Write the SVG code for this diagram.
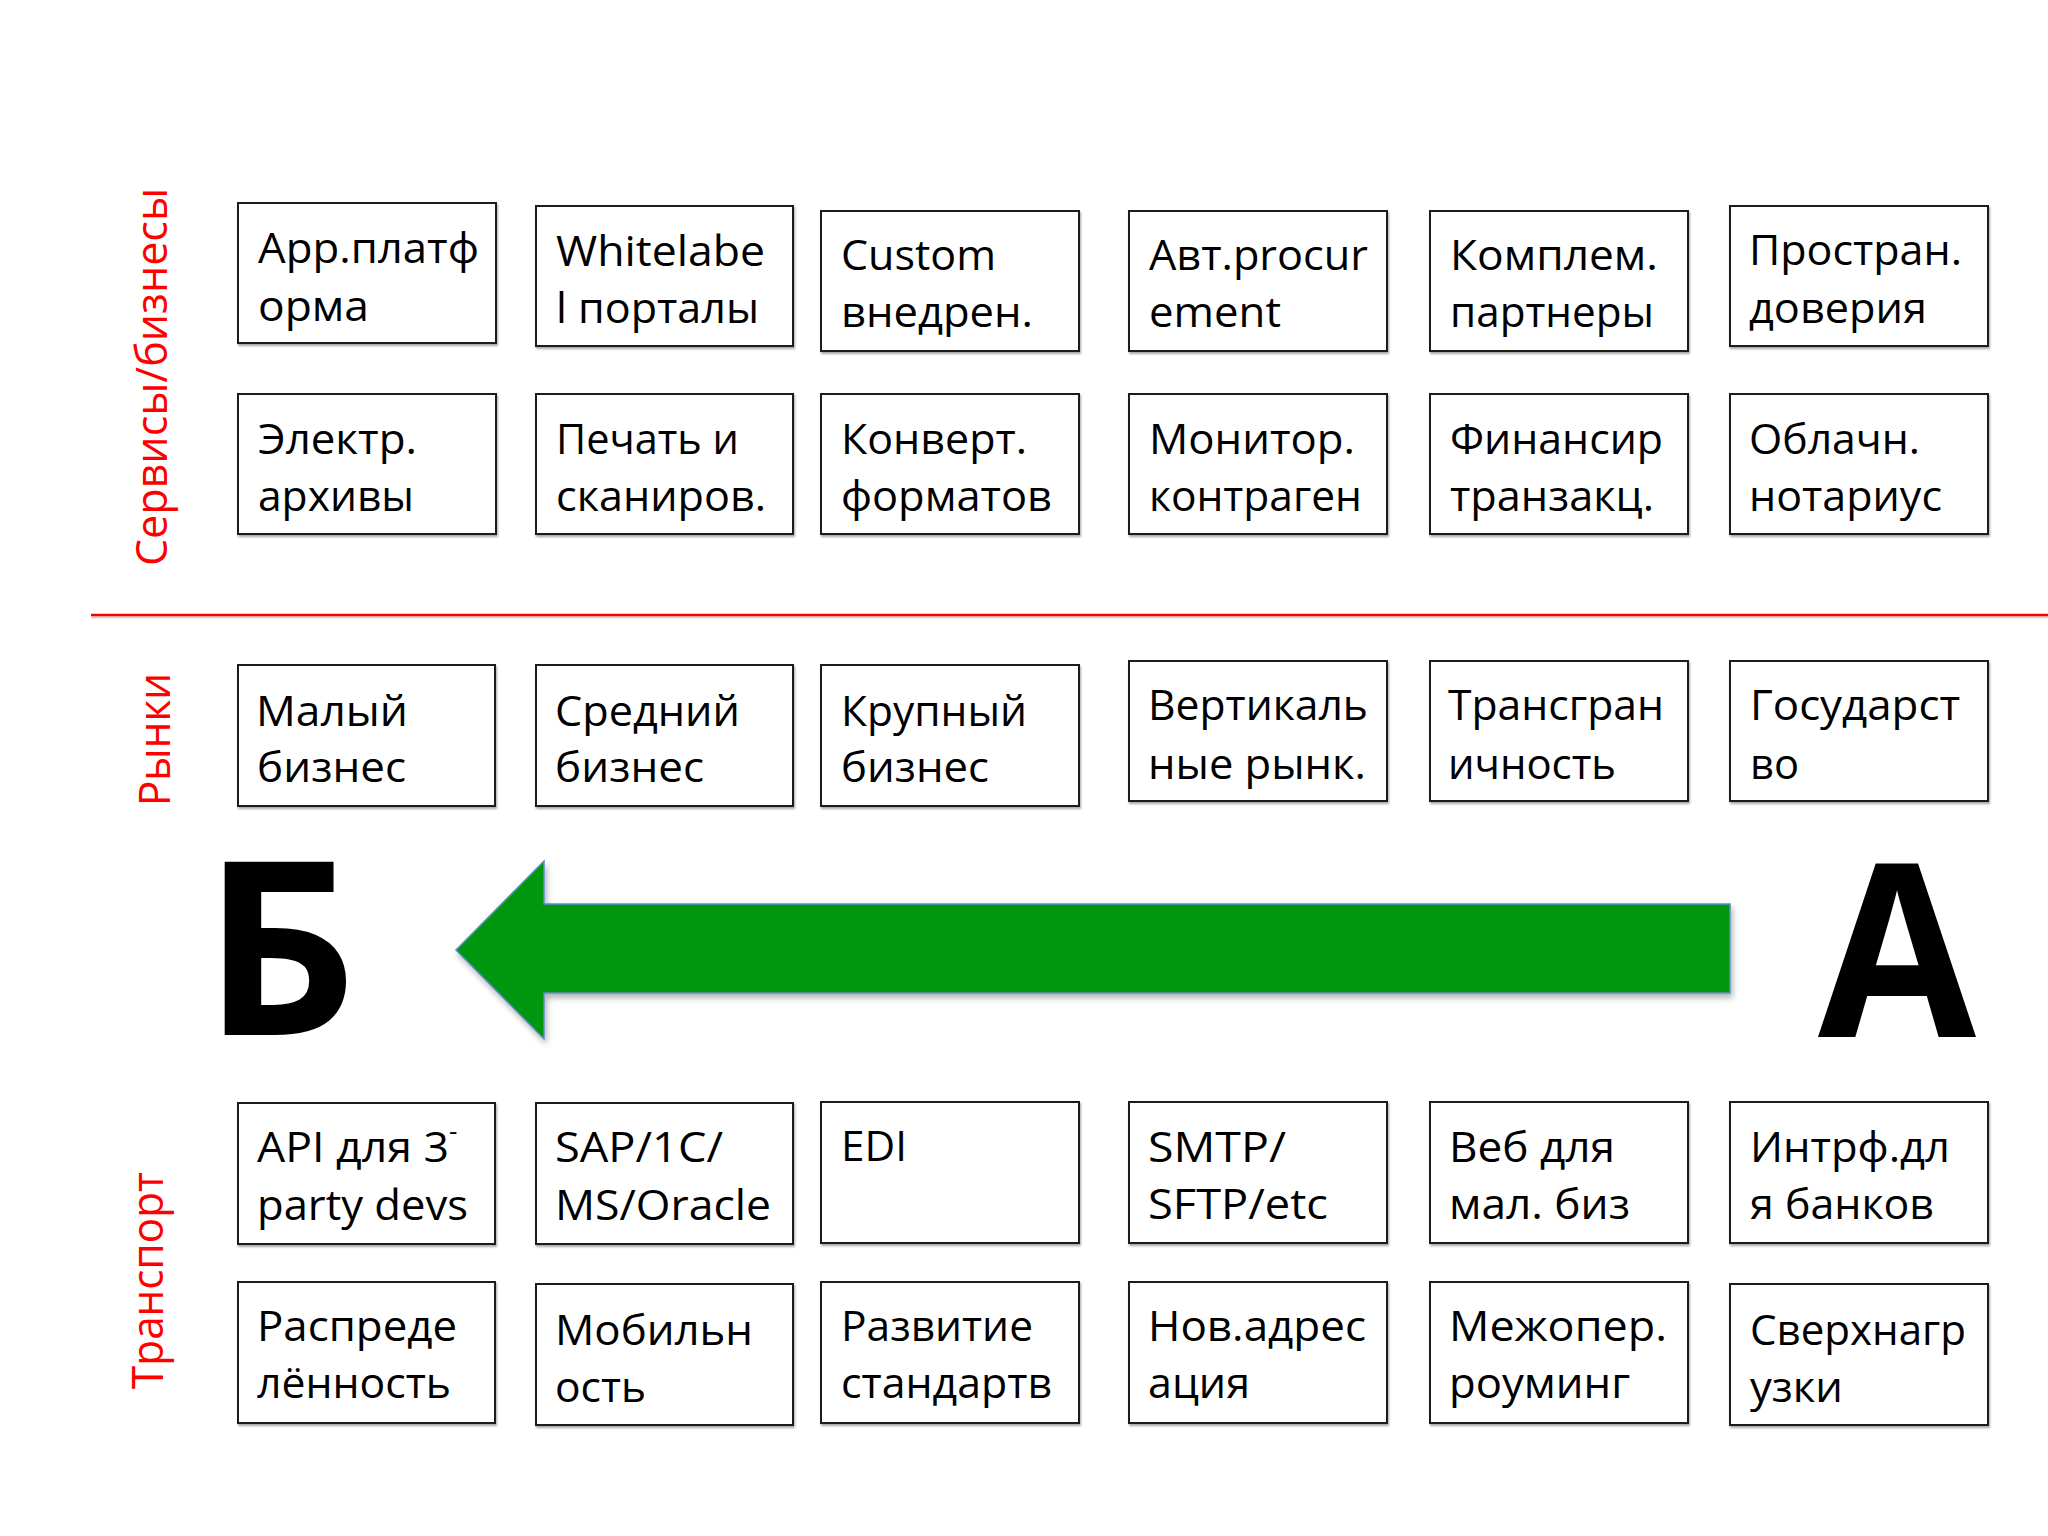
<svg xmlns="http://www.w3.org/2000/svg" width="2048" height="1536" viewBox="0 0 2048 1536">
<defs>
<style>
.box{fill:#ffffff;stroke:#1e1e1e;stroke-width:2;filter:url(#sh)}
.t{font-family:"Open Sans","Noto Sans","DejaVu Sans",sans-serif;font-size:42px;fill:#000}
.lab{font-family:"Open Sans","Noto Sans","DejaVu Sans",sans-serif;font-size:43px;fill:#ff0000}
.big{font-family:"Open Sans","Noto Sans","DejaVu Sans",sans-serif;font-size:242px;font-weight:700;fill:#000}
</style>
<filter id="sh" x="-5%" y="-5%" width="110%" height="115%">
<feDropShadow dx="1" dy="2" stdDeviation="1" flood-color="#000" flood-opacity="0.35"/>
</filter>
<filter id="ash" x="-5%" y="-10%" width="110%" height="125%">
<feDropShadow dx="2" dy="4" stdDeviation="3" flood-color="#000" flood-opacity="0.3"/>
</filter>
</defs>
<rect x="0" y="0" width="2048" height="1536" fill="#ffffff"/>

<g id="labels">
<text class="lab" transform="translate(167,566) rotate(-90)" textLength="378" lengthAdjust="spacingAndGlyphs">Сервисы/бизнесы</text>
<text class="lab" transform="translate(170,806) rotate(-90)" textLength="133" lengthAdjust="spacingAndGlyphs">Рынки</text>
<text class="lab" transform="translate(163,1389) rotate(-90)" textLength="217" lengthAdjust="spacingAndGlyphs">Транспорт</text>
</g>

<g id="separator">
<line x1="91" y1="617" x2="2048" y2="617" stroke="#d8d8d8" stroke-width="3"/>
<line x1="91" y1="615" x2="2048" y2="615" stroke="#ff0000" stroke-width="2.5"/>
</g>

<!-- Services row 1 -->
<g id="s1"><rect class="box" x="238" y="203" width="258" height="140"/>
<text class="t" x="258" y="263" textLength="221" lengthAdjust="spacingAndGlyphs">Арр.платф</text>
<text class="t" x="258" y="321" textLength="111" lengthAdjust="spacingAndGlyphs">орма</text></g>
<g id="s2"><rect class="box" x="536" y="206" width="257" height="140"/>
<text class="t" x="556" y="266" textLength="209" lengthAdjust="spacingAndGlyphs">Whitelabe</text>
<text class="t" x="556" y="323" textLength="203" lengthAdjust="spacingAndGlyphs">l порталы</text></g>
<g id="s3"><rect class="box" x="821" y="211" width="258" height="140"/>
<text class="t" x="841" y="270" textLength="155" lengthAdjust="spacingAndGlyphs">Custom</text>
<text class="t" x="841" y="327" textLength="192" lengthAdjust="spacingAndGlyphs">внедрен.</text></g>
<g id="s4"><rect class="box" x="1129" y="211" width="258" height="140"/>
<text class="t" x="1149" y="270" textLength="219" lengthAdjust="spacingAndGlyphs">Авт.procur</text>
<text class="t" x="1149" y="327" textLength="132" lengthAdjust="spacingAndGlyphs">ement</text></g>
<g id="s5"><rect class="box" x="1430" y="211" width="258" height="140"/>
<text class="t" x="1450" y="270" textLength="208" lengthAdjust="spacingAndGlyphs">Комплем.</text>
<text class="t" x="1450" y="327" textLength="204" lengthAdjust="spacingAndGlyphs">партнеры</text></g>
<g id="s6"><rect class="box" x="1730" y="206" width="258" height="140"/>
<text class="t" x="1749" y="265" textLength="213" lengthAdjust="spacingAndGlyphs">Простран.</text>
<text class="t" x="1749" y="323" textLength="178" lengthAdjust="spacingAndGlyphs">доверия</text></g>

<!-- Services row 2 -->
<g id="s7"><rect class="box" x="238" y="394" width="258" height="140"/>
<text class="t" x="258" y="454" textLength="159" lengthAdjust="spacingAndGlyphs">Электр.</text>
<text class="t" x="258" y="511" textLength="156" lengthAdjust="spacingAndGlyphs">архивы</text></g>
<g id="s8"><rect class="box" x="536" y="394" width="257" height="140"/>
<text class="t" x="556" y="454" textLength="183" lengthAdjust="spacingAndGlyphs">Печать и</text>
<text class="t" x="556" y="511" textLength="210" lengthAdjust="spacingAndGlyphs">сканиров.</text></g>
<g id="s9"><rect class="box" x="821" y="394" width="258" height="140"/>
<text class="t" x="841" y="454" textLength="186" lengthAdjust="spacingAndGlyphs">Конверт.</text>
<text class="t" x="841" y="511" textLength="211" lengthAdjust="spacingAndGlyphs">форматов</text></g>
<g id="s10"><rect class="box" x="1129" y="394" width="258" height="140"/>
<text class="t" x="1149" y="454" textLength="206" lengthAdjust="spacingAndGlyphs">Монитор.</text>
<text class="t" x="1149" y="511" textLength="213" lengthAdjust="spacingAndGlyphs">контраген</text></g>
<g id="s11"><rect class="box" x="1430" y="394" width="258" height="140"/>
<text class="t" x="1450" y="454" textLength="213" lengthAdjust="spacingAndGlyphs">Финансир</text>
<text class="t" x="1450" y="511" textLength="204" lengthAdjust="spacingAndGlyphs">транзакц.</text></g>
<g id="s12"><rect class="box" x="1730" y="394" width="258" height="140"/>
<text class="t" x="1749" y="454" textLength="171" lengthAdjust="spacingAndGlyphs">Облачн.</text>
<text class="t" x="1749" y="511" textLength="193" lengthAdjust="spacingAndGlyphs">нотариус</text></g>

<!-- Markets -->
<g id="m1"><rect class="box" x="238" y="665" width="257" height="141"/>
<text class="t" x="256" y="726" textLength="152" lengthAdjust="spacingAndGlyphs">Малый</text>
<text class="t" x="257" y="782" textLength="149" lengthAdjust="spacingAndGlyphs">бизнес</text></g>
<g id="m2"><rect class="box" x="536" y="665" width="257" height="141"/>
<text class="t" x="555" y="726" textLength="185" lengthAdjust="spacingAndGlyphs">Средний</text>
<text class="t" x="555" y="782" textLength="149" lengthAdjust="spacingAndGlyphs">бизнес</text></g>
<g id="m3"><rect class="box" x="821" y="665" width="258" height="141"/>
<text class="t" x="841" y="726" textLength="186" lengthAdjust="spacingAndGlyphs">Крупный</text>
<text class="t" x="841" y="782" textLength="148" lengthAdjust="spacingAndGlyphs">бизнес</text></g>
<g id="m4"><rect class="box" x="1129" y="661" width="258" height="140"/>
<text class="t" x="1148" y="720" textLength="220" lengthAdjust="spacingAndGlyphs">Вертикаль</text>
<text class="t" x="1148" y="779" textLength="218" lengthAdjust="spacingAndGlyphs">ные рынк.</text></g>
<g id="m5"><rect class="box" x="1430" y="661" width="258" height="140"/>
<text class="t" x="1448" y="720" textLength="216" lengthAdjust="spacingAndGlyphs">Трансгран</text>
<text class="t" x="1448" y="779" textLength="168" lengthAdjust="spacingAndGlyphs">ичность</text></g>
<g id="m6"><rect class="box" x="1730" y="661" width="258" height="140"/>
<text class="t" x="1750" y="720" textLength="210" lengthAdjust="spacingAndGlyphs">Государст</text>
<text class="t" x="1750" y="779" textLength="49" lengthAdjust="spacingAndGlyphs">во</text></g>

<!-- Б and А -->
<g id="nodeB"><text class="big" x="203" y="1035" textLength="154" lengthAdjust="spacingAndGlyphs">Б</text></g>
<g id="nodeA"><text class="big" x="1818" y="1037" textLength="158" lengthAdjust="spacingAndGlyphs">А</text></g>

<g id="connectors">
<polygon points="456,950 544,861 544,904 1730,904 1730,993 544,993 544,1039" fill="#03960a" stroke="#5a8fc8" stroke-width="1.5" filter="url(#ash)"/>
</g>

<!-- Transport row 1 -->
<g id="t1"><rect class="box" x="238" y="1103" width="257" height="141"/>
<text class="t" x="257" y="1162"><tspan textLength="192" lengthAdjust="spacingAndGlyphs">API для 3</tspan><tspan font-size="26" dy="-22">-</tspan></text>
<text class="t" x="257" y="1220" textLength="211" lengthAdjust="spacingAndGlyphs">party devs</text></g>
<g id="t2"><rect class="box" x="536" y="1103" width="257" height="141"/>
<text class="t" x="555" y="1162" textLength="168" lengthAdjust="spacingAndGlyphs">SAP/1C/</text>
<text class="t" x="555" y="1220" textLength="216" lengthAdjust="spacingAndGlyphs">MS/Oracle</text></g>
<g id="t3"><rect class="box" x="821" y="1102" width="258" height="141"/>
<text class="t" x="841" y="1161" textLength="66" lengthAdjust="spacingAndGlyphs">EDI</text></g>
<g id="t4"><rect class="box" x="1129" y="1102" width="258" height="141"/>
<text class="t" x="1148" y="1162" textLength="138" lengthAdjust="spacingAndGlyphs">SMTP/</text>
<text class="t" x="1148" y="1219" textLength="180" lengthAdjust="spacingAndGlyphs">SFTP/etc</text></g>
<g id="t5"><rect class="box" x="1430" y="1102" width="258" height="141"/>
<text class="t" x="1449" y="1162" textLength="166" lengthAdjust="spacingAndGlyphs">Веб для</text>
<text class="t" x="1449" y="1219" textLength="181" lengthAdjust="spacingAndGlyphs">мал. биз</text></g>
<g id="t6"><rect class="box" x="1730" y="1102" width="258" height="141"/>
<text class="t" x="1750" y="1162" textLength="200" lengthAdjust="spacingAndGlyphs">Интрф.дл</text>
<text class="t" x="1750" y="1219" textLength="184" lengthAdjust="spacingAndGlyphs">я банков</text></g>

<!-- Transport row 2 -->
<g id="t7"><rect class="box" x="238" y="1282" width="257" height="141"/>
<text class="t" x="257" y="1341" textLength="200" lengthAdjust="spacingAndGlyphs">Распреде</text>
<text class="t" x="257" y="1398" textLength="194" lengthAdjust="spacingAndGlyphs">лённость</text></g>
<g id="t8"><rect class="box" x="536" y="1284" width="257" height="141"/>
<text class="t" x="555" y="1345" textLength="198" lengthAdjust="spacingAndGlyphs">Мобильн</text>
<text class="t" x="555" y="1402" textLength="91" lengthAdjust="spacingAndGlyphs">ость</text></g>
<g id="t9"><rect class="box" x="821" y="1282" width="258" height="141"/>
<text class="t" x="841" y="1341" textLength="192" lengthAdjust="spacingAndGlyphs">Развитие</text>
<text class="t" x="841" y="1398" textLength="211" lengthAdjust="spacingAndGlyphs">стандартв</text></g>
<g id="t10"><rect class="box" x="1129" y="1282" width="258" height="141"/>
<text class="t" x="1148" y="1341" textLength="218" lengthAdjust="spacingAndGlyphs">Нов.адрес</text>
<text class="t" x="1148" y="1398" textLength="102" lengthAdjust="spacingAndGlyphs">ация</text></g>
<g id="t11"><rect class="box" x="1430" y="1282" width="258" height="141"/>
<text class="t" x="1449" y="1341" textLength="218" lengthAdjust="spacingAndGlyphs">Межопер.</text>
<text class="t" x="1449" y="1398" textLength="181" lengthAdjust="spacingAndGlyphs">роуминг</text></g>
<g id="t12"><rect class="box" x="1730" y="1284" width="258" height="141"/>
<text class="t" x="1750" y="1345" textLength="216" lengthAdjust="spacingAndGlyphs">Сверхнагр</text>
<text class="t" x="1750" y="1402" textLength="93" lengthAdjust="spacingAndGlyphs">узки</text></g>
</svg>
